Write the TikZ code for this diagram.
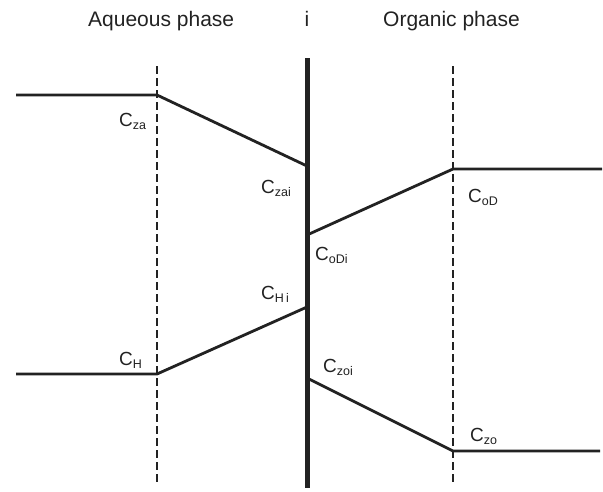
\documentclass[tikz,border=0pt]{standalone}
\usepackage{fontspec}
\setmainfont{Liberation Sans}
\usepackage{xcolor}
\usepackage{tikz}
\usetikzlibrary{positioning}
\definecolor{cInk}{HTML}{222222}
\newcommand\csub[1]{\raisebox{-3.5pt}{\fontsize{12.5}{13}\selectfont #1}}
\tikzset{
  bound/.style = {draw=cInk, line width=2pt, dash pattern=on 8pt off 4pt},
  iface/.style = {draw=cInk, line width=5pt},
  prof/.style  = {draw=cInk, line width=2.8pt, line join=round},
  conc/.style  = {anchor=base west, inner sep=0pt, text=cInk,
                  font=\fontsize{19}{19}\selectfont},
  head/.style  = {anchor=base west, inner sep=0pt, text=cInk,
                  font=\fontsize{21}{21}\selectfont},
}

\begin{document}
\begin{tikzpicture}[x=1pt, y=-1pt]
  \useasboundingbox (0,0) rectangle (603,491);
  % headings
  \node[head] (aq) at (88,26) {Aqueous phase};
  \node[head, anchor=base] (ih) at (307,26) {i};
  \node[head] (org) at (383,26) {Organic phase};
  % film boundaries and interface
  \coordinate (aqT) at (157,66);
  \coordinate (aqB) at (157,482);
  \coordinate (orT) at (453,66);
  \coordinate (orB) at (453,485);
  \coordinate (ifT) at (307,58);
  \coordinate (ifB) at (307,488);
  \draw[bound] (aqT) -- (aqB);
  \draw[bound] (orT) -- (orB);
  \draw[iface] (ifT) -- (ifB);
  % profile points
  \coordinate (za0) at (16,95);
  \coordinate (za)  at (157,95);
  \coordinate (zai) at (307,166);
  \coordinate (oDi) at (307,235);
  \coordinate (oD)  at (453,169);
  \coordinate (oD1) at (602,169);
  \coordinate (H0)  at (16,374);
  \coordinate (H)   at (157,374);
  \coordinate (Hi)  at (307,307);
  \coordinate (zoi) at (307,378);
  \coordinate (zo)  at (453,451);
  \coordinate (zo1) at (600,451);
  \draw[prof] (za0) -- (za) -- (zai);
  \draw[prof] (oDi) -- (oD) -- (oD1);
  \draw[prof] (H0) -- (H) -- (Hi);
  \draw[prof] (zoi) -- (zo) -- (zo1);
  % concentrations
  \node[conc] (lza)  at (119,126) {C\csub{za}};
  \node[conc] (lzai) at (261,193) {C\csub{zai}};
  \node[conc] (loDi) at (315,260) {C\csub{oDi}};
  \node[conc] (lHi)  at (261,299) {C\csub{H\,i}};
  \node[conc] (lzoi) at (323,372) {C\csub{zoi}};
  \node[conc] (loD)  at (468,202) {C\csub{oD}};
  \node[conc] (lzo)  at (470,441) {C\csub{zo}};
  \node[conc] (lH)   at (119,365) {C\csub{H}};
\end{tikzpicture}
\end{document}
